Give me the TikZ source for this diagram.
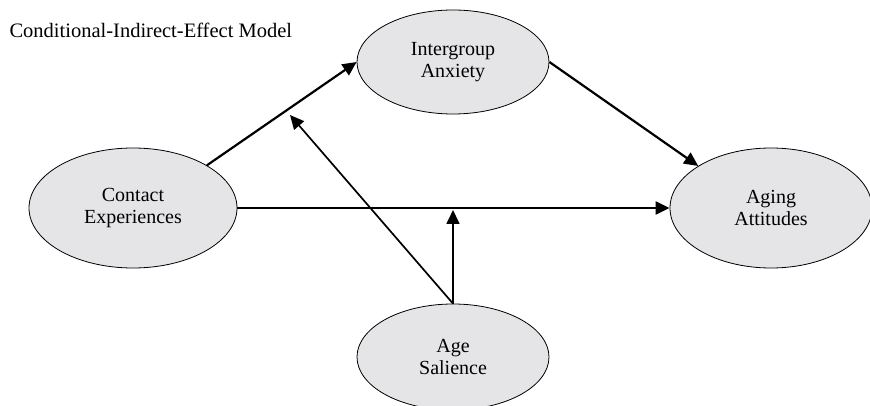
\documentclass[tikz,border=0pt]{standalone}
\usepackage{fontspec}
\setmainfont{Liberation Serif}
\usetikzlibrary{shapes.geometric,arrows.meta}
\definecolor{nodefill}{RGB}{229,229,231}
\tikzset{
  latent/.style={ellipse, draw=black, line width=0.8pt, fill=nodefill, inner sep=0pt,
    align=center, font=\fontsize{20}{22}\selectfont},
  path/.style={line width=2.2pt, -{Triangle[length=14pt,width=13pt]}},
  modpath/.style={line width=1.7pt, -{Triangle[length=14pt,width=13pt]}}
}
\begin{document}
\begin{tikzpicture}[x=1pt,y=-1pt]
\useasboundingbox (0,0) rectangle (870,406);
\node[anchor=west, font=\fontsize{20.5}{22}\selectfont] (title) at (6,30) {Conditional-Indirect-Effect Model};
\node[latent, minimum width=192pt, minimum height=104pt] (ia) at (453,62) {Intergroup\\Anxiety};
\node[latent, minimum width=208pt, minimum height=120pt] (ce) at (133,208) {Contact\\Experiences};
\node[latent, minimum width=202pt, minimum height=120pt] (aa) at (771,208) {Aging\\Attitudes};
\node[latent, minimum width=192pt, minimum height=106pt] (as) at (453,357) {Age\\Salience};
\coordinate (m1) at (453,210);
\coordinate (m2) at (290,115);
\draw[path] (ce.30) -- (ia.west);
\draw[path] (ia.east) -- (aa.150);
\draw[path] (ce.east) -- (aa.west);
\draw[modpath] (as.north) -- (m1);
\draw[modpath] (as.north) -- (m2);
\end{tikzpicture}
\end{document}
